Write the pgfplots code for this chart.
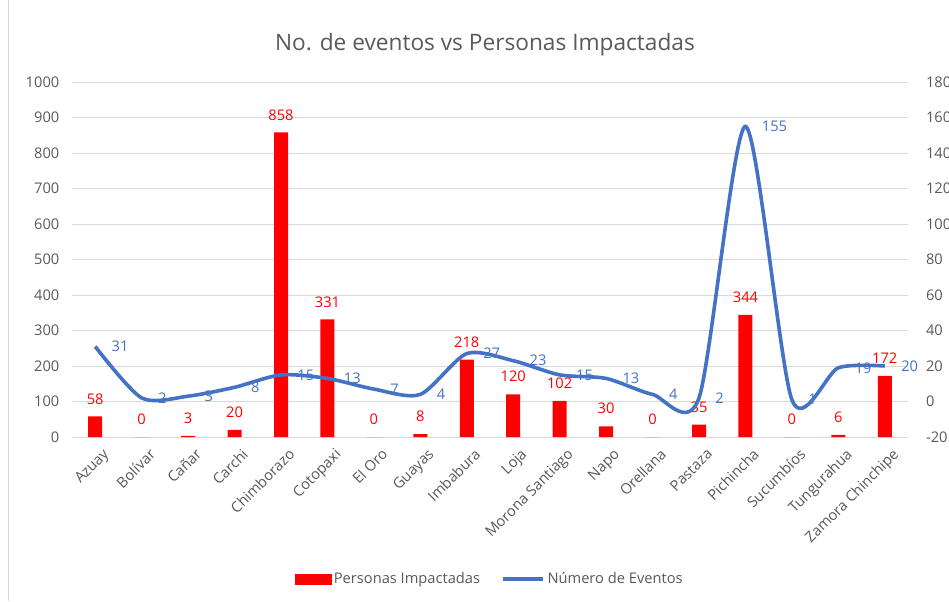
\documentclass[border=0pt]{standalone}
\usepackage{fontspec}
\setmainfont{Open Sans}
\usepackage{pgfplots}
\pgfplotsset{compat=1.18}
\definecolor{txt}{HTML}{595959}
\definecolor{grd}{HTML}{D9D9D9}
\definecolor{lineblue}{HTML}{4472C4}
\definecolor{barred}{HTML}{FF0000}
\begin{document}
\begin{tikzpicture}
\draw[grd, line width=0.75pt] (6pt,0) -- (6pt,450.75pt);
\node[font=\fontsize{17}{20}\selectfont, text=txt] at (363.75pt,417pt) {No. de eventos vs Personas Impactadas};
\begin{axis}[
  at={(54pt,123pt)}, anchor=south west, scale only axis,
  width=627pt, height=266.25pt,
  xmin=-0.5, xmax=17.5, ymin=0, ymax=1000,
  ytick={0,100,...,1000},
  xtick={0,...,17},
  xticklabels={Azuay,Bolívar,Cañar,Carchi,Chimborazo,Cotopaxi,El Oro,Guayas,Imbabura,Loja,Morona Santiago,Napo,Orellana,Pastaza,Pichincha,Sucumbíos,Tungurahua,Zamora Chinchipe},
  x tick label style={xshift=5pt, yshift=-3pt, rotate=45, anchor=north east, font=\fontsize{11}{13}\selectfont, text=txt},
  y tick label style={font=\fontsize{11}{13}\selectfont, text=txt, xshift=-6pt},
  /pgf/number format/assume math mode=true,
  /pgf/number format/set thousands separator={},
  major tick length=0pt,
  axis line style={draw=none},
  ymajorgrids, grid style={grd, line width=0.75pt},
  ybar, bar width=10.5pt,
  nodes near coords,
  every node near coord/.append style={text=barred, inner sep=0pt, yshift=9pt, font=\fontsize{11}{13}\selectfont},
  clip=false,
]
\addplot[fill=barred, draw=none] coordinates {
(0,58) (1,0) (2,3) (3,20) (4,858) (5,331) (6,0) (7,8) (8,218) (9,120)
(10,102) (11,30) (12,0) (13,35) (14,344) (15,0) (16,6) (17,172)};
\end{axis}
\begin{axis}[
  at={(54pt,123pt)}, anchor=south west, scale only axis,
  width=627pt, height=266.25pt,
  xmin=-0.5, xmax=17.5, ymin=-20, ymax=180,
  ytick={-20,0,...,180},
  xtick=\empty,
  yticklabel pos=right,
  y tick label style={font=\fontsize{11}{13}\selectfont, text=txt, xshift=10pt},
  /pgf/number format/assume math mode=true,
  major tick length=0pt,
  axis line style={draw=none},
  clip=false,
  legend style={at={(0.5,-0.4)}, anchor=center, draw=none, fill=none, legend columns=2,
    font=\fontsize{11}{13}\selectfont, text=txt,
    /tikz/every even column/.append style={column sep=14pt}},
  legend cell align=left,
]
\addlegendimage{legend image code/.code={\fill[barred] (0pt,-3.75pt) rectangle (27pt,3.75pt);}}
\addlegendentry{Personas Impactadas}
\addplot[lineblue, line width=2.7pt, smooth, tension=0.45,
  legend image code/.code={\draw[lineblue, line width=2.6pt] (0pt,0pt) -- (30pt,0pt);},
  nodes near coords, nodes near coords align={horizontal},
  every node near coord/.append style={text=lineblue, inner sep=0pt, xshift=11pt, font=\fontsize{11}{13}\selectfont}]
coordinates {
(0,31) (1,2) (2,3) (3,8) (4,15) (5,13) (6,7) (7,4) (8,27) (9,23)
(10,15) (11,13) (12,4) (13,2) (14,155) (15,1) (16,19) (17,20)};
\addlegendentry{Número de Eventos}
\end{axis}
\pgfresetboundingbox
\useasboundingbox (0,0) rectangle (711.75pt,450.75pt);
\end{tikzpicture}
\end{document}
